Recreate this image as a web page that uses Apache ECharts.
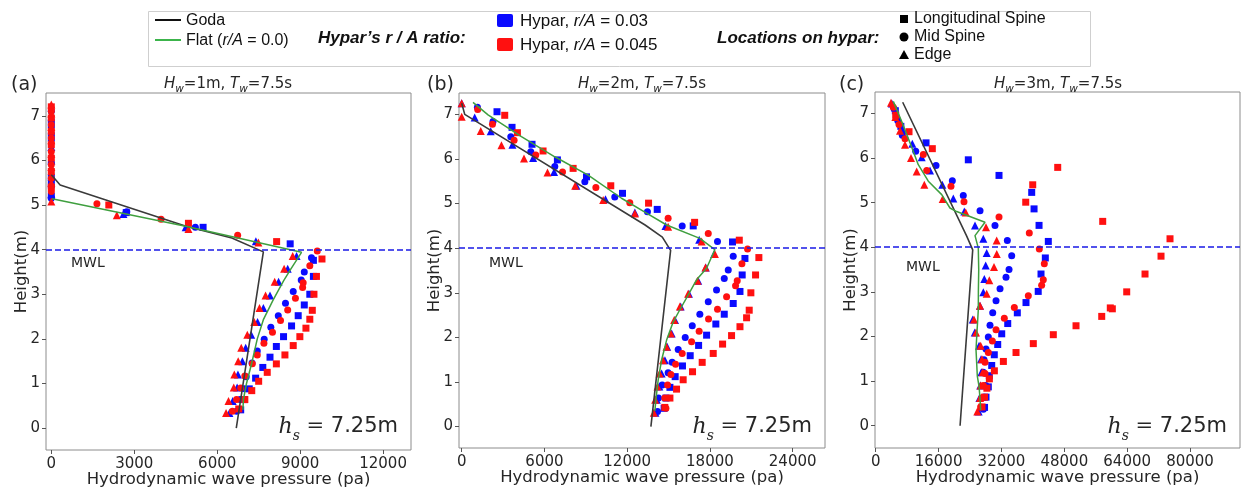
<!DOCTYPE html>
<html><head><meta charset="utf-8">
<script src="https://cdn.jsdelivr.net/npm/echarts@6/dist/echarts.min.js"></script>
<style>html,body{margin:0;padding:0;background:#fff}#c{width:1241px;height:490px}</style>
</head><body><div id="c"></div>
<script>
// ---------- tick labels ----------
const xTicksA = [0, 3000, 6000, 9000, 12000];
const xTicksB = [0, 6000, 12000, 18000, 24000];
const xTicksC = [0, 16000, 32000, 48000, 64000, 80000];
const yTicks = [0, 1, 2, 3, 4, 5, 6, 7];
const mwl = 4;
const panelTitles = [['1', '7.5'], ['2', '7.5'], ['3', '7.5']];
const panelTags = ['(a)', '(b)', '(c)'];
const hsValue = '7.25';

// ---------- Panel (a): Hw = 1 m  [pressure (pa), height (m)] ----------
const aGoda = [[6690,0],[7670,3.95],[6530,4.26],[4900,4.52],[320,5.45],[0,5.68]];
const aFlat = [[6930,0.41],[6950,0.65],[7060,1.0],[7250,1.46],[7450,2.0],[7670,2.43],[8030,2.88],[8400,3.3],[8650,3.55],[9050,3.94],[4900,4.52],[25,5.14]];
const aBlueSq = [[6850,0.41],[6980,0.64],[7160,0.88],[7390,1.12],[7650,1.36],[7910,1.59],[8140,1.83],[8400,2.05],[8690,2.29],[8930,2.52],[9150,2.76],[9350,3.0],[9480,3.4],[9480,3.76],[8640,4.13],[5490,4.5],[2710,4.83],[0,5.2],[0,5.45],[0,5.62],[0,6.5],[0,6.8]];
const aRedSq = [[6780,0.43],[7000,0.64],[7250,0.84],[7500,1.05],[7810,1.25],[8140,1.44],[8450,1.64],[8750,1.85],[8990,2.05],[9210,2.24],[9350,2.44],[9440,2.64],[9500,3.0],[9590,3.4],[9790,3.79],[8150,4.18],[4960,4.59],[2080,5.0],[0,5.4],[0,5.75],[0,6.05],[0,6.35],[0,6.65],[0,6.95],[0,7.2]];
const aBlueCi = [[6700,0.38],[6830,0.64],[6980,0.88],[7050,1.15],[7260,1.46],[7450,1.73],[7700,1.99],[7940,2.26],[8210,2.52],[8470,2.8],[8750,3.06],[9040,3.32],[9150,3.5],[9410,3.82],[5210,4.5],[2730,4.85],[0,5.15],[0,5.55],[0,5.95],[0,6.6],[0,6.9],[0,7.1]];
const aRedCi = [[6550,0.38],[6700,0.64],[6850,0.9],[7000,1.17],[7270,1.44],[7450,1.64],[7690,1.9],[8000,2.15],[8290,2.41],[8550,2.65],[8830,2.91],[9090,3.15],[9110,3.26],[9350,3.64],[9620,3.97],[6740,4.32],[3970,4.68],[1650,5.03],[0,5.3],[0,5.6],[0,5.9],[0,6.2],[0,6.5],[0,6.8],[0,7.1]];
const aBlueTr = [[6440,0.34],[6560,0.61],[6720,0.91],[6750,1.2],[6910,1.5],[7030,1.8],[7230,2.09],[7460,2.38],[7670,2.69],[7910,2.97],[8220,3.28],[8550,3.57],[8870,3.86],[7400,4.19],[4860,4.5],[2610,4.8],[0,5.25],[0,6.0],[0,6.3]];
const aRedTr = [[6320,0.34],[6410,0.61],[6600,0.91],[6620,1.2],[6760,1.5],[6870,1.8],[7090,2.09],[7340,2.38],[7530,2.69],[7750,2.97],[8080,3.28],[8420,3.57],[8730,3.86],[7490,4.16],[4960,4.46],[2370,4.77],[0,5.08],[0,5.5],[0,5.85],[0,6.15],[0,6.45],[0,6.75],[0,7.05],[0,7.25]];

// ---------- Panel (b): Hw = 2 m ----------
const bGoda = [[13720,0],[15150,3.95],[14550,4.25],[13300,4.52],[220,7.0],[0,7.25]];
const bFlat = [[14010,0.35],[14080,0.6],[14250,1.05],[14500,1.5],[14860,1.94],[15340,2.35],[15820,2.62],[16420,2.95],[17030,3.29],[17760,3.55],[18360,3.97],[17270,4.22],[14860,4.52],[13280,4.81],[11590,5.12],[9170,5.64],[6750,6.05],[4330,6.5],[1910,6.99],[820,7.27]];
const bBlueSq = [[14680,0.41],[14810,0.64],[15100,0.88],[15480,1.12],[16010,1.36],[16570,1.59],[17180,1.82],[17760,2.05],[18430,2.3],[19040,2.52],[19690,2.76],[20180,3.03],[20340,3.4],[20540,3.77],[19640,4.14],[16790,4.5],[14180,4.87],[11660,5.23],[9050,5.6],[6940,5.98],[5100,6.33],[3650,6.71],[2560,7.06]];
const bRedSq = [[14730,0.43],[15100,0.64],[15580,0.84],[16060,1.05],[16740,1.23],[17440,1.44],[18240,1.64],[18920,1.85],[19570,2.04],[20180,2.24],[20660,2.44],[20850,2.61],[20970,3.0],[21310,3.4],[21550,3.79],[20130,4.18],[16890,4.58],[13550,5.01],[10810,5.4],[8080,5.79],[5900,6.18],[4040,6.59],[3120,6.98]];
const bBlueCi = [[14200,0.34],[14270,0.64],[14540,0.93],[14970,1.21],[15260,1.44],[15700,1.73],[16210,2.0],[16720,2.26],[17270,2.52],[17880,2.8],[18480,3.06],[19040,3.32],[19330,3.51],[19690,3.82],[18550,4.15],[15990,4.5],[13470,4.82],[11100,5.15],[8930,5.49],[6750,5.83],[5010,6.16],[3560,6.5],[2270,6.84],[1140,7.16]];
const bRedCi = [[14810,0.41],[14730,0.64],[14930,0.93],[15170,1.17],[15510,1.4],[15990,1.64],[16670,1.9],[17220,2.14],[17900,2.41],[18550,2.63],[19210,2.91],[19860,3.16],[19980,3.27],[20320,3.65],[20730,3.98],[17880,4.33],[14970,4.67],[12190,5.02],[9730,5.36],[7310,5.71],[5370,6.09],[3800,6.42],[2230,6.78],[1160,7.11]];
const bBlueTr = [[14050,0.31],[14150,0.6],[14330,0.9],[14500,1.19],[14740,1.49],[14900,1.79],[15230,2.09],[15470,2.39],[15880,2.69],[16480,2.98],[17150,3.27],[17700,3.57],[18310,3.87],[17220,4.19],[14780,4.5],[12560,4.8],[10430,5.1],[8320,5.4],[6700,5.71],[5180,6.02],[3680,6.32],[2100,6.62],[940,6.93],[0,7.25]];
const bRedTr = [[13930,0.31],[14030,0.6],[14200,0.9],[14350,1.19],[14600,1.49],[14850,1.79],[15170,2.09],[15410,2.39],[15820,2.69],[16420,2.98],[17100,3.27],[17680,3.57],[18360,3.87],[17400,4.15],[14970,4.48],[12560,4.78],[10260,5.08],[8230,5.4],[6220,5.7],[4520,6.01],[2880,6.31],[1380,6.63],[0,6.95],[0,7.25]];

// ---------- Panel (c): Hw = 3 m ----------
const cGoda = [[21470,0],[24690,3.94],[23160,4.25],[6870,7.25]];
const cFlat = [[26720,0.35],[26550,0.6],[26300,0.88],[25860,1.11],[25700,1.4],[25530,1.7],[25710,2.0],[26110,2.6],[26130,3.0],[26220,3.5],[26110,3.98],[25270,4.26],[27820,4.56],[20600,4.8],[18900,4.88],[16800,5.18],[13390,5.48],[10840,5.85],[8730,6.34],[6620,6.82],[4480,7.27]];
const cBlueSq = [[27700,0.41],[28070,0.64],[28660,0.87],[28910,1.12],[29520,1.35],[30180,1.59],[31050,1.82],[32070,2.06],[33600,2.29],[36040,2.53],[38250,2.76],[41360,3.01],[42070,3.4],[43170,3.76],[43930,4.13],[41570,4.49],[40300,4.86],[39700,5.23],[31380,5.61],[23570,5.96],[12810,6.34],[6400,6.71],[5000,7.06]];
const cRedSq = [[27050,0.42],[27700,0.64],[28300,0.84],[28930,1.05],[30200,1.23],[32490,1.44],[35710,1.64],[40110,1.84],[45200,2.04],[50980,2.24],[57520,2.45],[60220,2.62],[59700,2.64],[63880,3.0],[68540,3.4],[72610,3.8],[74900,4.19],[57770,4.58],[38180,5.01],[39960,5.4],[46320,5.79],[14410,6.21],[8480,6.59],[5090,6.96]];
const cBlueCi = [[27390,0.37],[27700,0.64],[28000,0.9],[27390,1.2],[27560,1.48],[28070,1.72],[28660,1.99],[29090,2.25],[29780,2.53],[30620,2.8],[31640,3.07],[33160,3.33],[33930,3.5],[34610,3.81],[33500,4.15],[30360,4.49],[26550,4.82],[22290,5.16],[19500,5.49],[15350,5.83],[10180,6.15],[6770,6.51],[5600,6.84],[4700,7.1]];
const cRedCi = [[26700,0.42],[27000,0.62],[27390,0.9],[27820,1.17],[27820,1.42],[28660,1.64],[29680,1.9],[30620,2.15],[32730,2.41],[35280,2.65],[38840,2.91],[42230,3.15],[42650,3.27],[42910,3.63],[41640,3.96],[39090,4.32],[31380,4.68],[22470,5.02],[19160,5.37],[12980,5.72],[12120,6.08],[7460,6.43],[5930,6.75],[4480,7.14]];
const cBlueTr = [[26200,0.32],[26400,0.62],[26600,0.9],[26900,1.2],[26800,1.49],[26300,1.79],[25200,2.09],[24700,2.38],[26550,2.69],[27390,2.99],[27640,3.29],[27990,3.59],[28250,3.87],[27390,4.19],[25270,4.49],[22550,4.8],[19750,5.09],[16950,5.4],[13820,5.72],[11710,6.02],[9320,6.32],[6900,6.62],[5600,6.92],[4100,7.22]];
const cRedTr = [[25860,0.32],[26550,0.62],[26720,0.9],[27230,1.2],[27050,1.49],[26720,1.79],[25530,2.09],[25020,2.38],[26550,2.69],[28250,2.96],[28910,3.26],[30110,3.56],[30800,3.85],[30790,4.15],[28070,4.45],[22910,4.78],[17050,5.08],[12370,5.4],[10430,5.7],[8990,6.0],[7460,6.3],[6190,6.61],[5000,6.92],[3890,7.24]];

// ---------- layout / styles ----------
const BLUE = '#0a0aff', RED = '#ff1010', GREEN = '#3f9f3f', GODA = '#3a3a3a', TXT = '#262626';
const FONT = 'DejaVu Sans';
const panels = [
  {grid:{left:46,top:93,width:365,height:357}, xMin:-192, xMax:13010, yMin:-0.49, yMax:7.51, xt:xTicksA,
   goda:aGoda, flat:aFlat, sets:[aBlueSq,aBlueCi,aBlueTr,aRedSq,aRedCi,aRedTr], cx:228, mwlX:71, mwlY:263, hsX:398, tagX:11},
  {grid:{left:459,top:93,width:366,height:355}, xMin:-196, xMax:26346, yMin:-0.48, yMax:7.48, xt:xTicksB,
   goda:bGoda, flat:bFlat, sets:[bBlueSq,bBlueCi,bBlueTr,bRedSq,bRedCi,bRedTr], cx:642, mwlX:489, mwlY:263, hsX:812, tagX:427},
  {grid:{left:875,top:92,width:365,height:356}, xMin:-178, xMax:92710, yMin:-0.5, yMax:7.48, xt:xTicksC,
   goda:cGoda, flat:cFlat, sets:[cBlueSq,cBlueCi,cBlueTr,cRedSq,cRedCi,cRedTr], cx:1058, mwlX:906, mwlY:267, hsX:1227, tagX:839}
];
const symbols = ['rect','circle','triangle','rect','circle','triangle'];
const sizes = [7,7,8,7,7,8];
const colors = [BLUE,BLUE,BLUE,RED,RED,RED];
const plain = v => String(v);

const grids = [], xAxes = [], yAxes = [], series = [], graphics = [];
panels.forEach((p, i) => {
  grids.push(Object.assign({show:true, borderColor:'#8c8c8c', borderWidth:1, backgroundColor:'#fff',
    containLabel:false, outerBoundsMode:'none'}, p.grid));
  xAxes.push({gridIndex:i, type:'value', min:p.xMin, max:p.xMax,
    axisLine:{show:false, onZero:false}, splitLine:{show:false},
    axisTick:{show:true, customValues:p.xt, length:4, lineStyle:{color:'#555'}},
    axisLabel:{customValues:p.xt, formatter:plain, fontSize:15, color:TXT, fontFamily:FONT, margin:7},
    name:'Hydrodynamic wave pressure (pa)', nameLocation:'middle', nameGap:21, nameMoveOverlap:false,
    nameTextStyle:{fontSize:16.5, color:TXT, fontFamily:FONT}});
  yAxes.push({gridIndex:i, type:'value', min:p.yMin, max:p.yMax,
    axisLine:{show:false, onZero:false}, splitLine:{show:false},
    axisTick:{show:true, customValues:yTicks, length:4, lineStyle:{color:'#555'}},
    axisLabel:{customValues:yTicks, formatter:plain, fontSize:15, color:TXT, fontFamily:FONT, margin:6},
    name:'Height(m)', nameLocation:'middle', nameGap:16, nameRotate:90, nameMoveOverlap:false,
    nameTextStyle:{fontSize:16.5, color:TXT, fontFamily:FONT}});
  p.sets.forEach((d, k) => {
    series.push({type:'scatter', xAxisIndex:i, yAxisIndex:i, data:d, symbol:symbols[k], symbolSize:sizes[k],
      itemStyle:{color:colors[k], opacity:1}, z:2, silent:true});
  });
  series.push({type:'line', xAxisIndex:i, yAxisIndex:i, data:p.goda, symbol:'none', z:4, silent:true,
    lineStyle:{color:GODA, width:1.6},
    markLine:{silent:true, symbol:['none','none'], label:{show:false}, z:5,
      lineStyle:{color:'#1a1ae6', type:[6,3], width:1.5}, data:[{yAxis:mwl}]}});
  series.push({type:'line', xAxisIndex:i, yAxisIndex:i, data:p.flat, symbol:'none', z:4, silent:true,
    lineStyle:{color:GREEN, width:1.5}});
  // titles & annotations
  graphics.push({type:'text', x:p.cx, y:84, style:{
    text:'{i|H}{s|w}{n|=' + panelTitles[i][0] + 'm, }{i|T}{s|w}{n|=' + panelTitles[i][1] + 's}',
    align:'center', verticalAlign:'middle', fill:TXT,
    rich:{i:{fontStyle:'italic', fontSize:15, fontFamily:FONT, fill:TXT, lineHeight:22, verticalAlign:'middle'},
          n:{fontSize:15, fontFamily:FONT, fill:TXT, lineHeight:22, verticalAlign:'middle'},
          s:{fontStyle:'italic', fontSize:10.5, fontFamily:FONT, fill:TXT, lineHeight:22, verticalAlign:'bottom'}}}});
  graphics.push({type:'text', x:p.tagX, y:85, style:{text:panelTags[i], fill:TXT,
    font:'19px "DejaVu Sans"', verticalAlign:'middle'}});
  graphics.push({type:'text', x:p.mwlX, y:p.mwlY, style:{text:'MWL', fill:TXT,
    font:'14px "DejaVu Sans"', verticalAlign:'middle'}});
  graphics.push({type:'text', x:p.hsX, y:427, style:{
    text:'{h|h}{s|s}{e| = }{n|' + hsValue + 'm}', align:'right', verticalAlign:'middle', fill:TXT,
    rich:{h:{fontFamily:'DejaVu Serif', fontStyle:'italic', fontSize:22, fill:TXT, lineHeight:32, verticalAlign:'middle'},
          s:{fontFamily:'DejaVu Serif', fontStyle:'italic', fontSize:14, fill:TXT, lineHeight:32, verticalAlign:'bottom'},
          e:{fontFamily:'DejaVu Serif', fontSize:21, fill:TXT, lineHeight:32, verticalAlign:'middle'},
          n:{fontFamily:FONT, fontSize:21, fill:TXT, lineHeight:32, verticalAlign:'middle'}}}});
});

// ---------- legend box ----------
const LF = '"Liberation Sans", Arial, sans-serif';
const legendTexts = {goda:'Goda', hyparHead:'Hypar\u2019s r / A ratio:', locHead:'Locations on hypar:',
  loc:['Longitudinal Spine','Mid Spine','Edge']};
graphics.push({type:'rect', shape:{x:148.5, y:11.5, width:942, height:55}, style:{fill:'#fff', stroke:'#cfcfcf', lineWidth:1}});
graphics.push({type:'line', shape:{x1:155, y1:20, x2:181, y2:20}, style:{stroke:'#111', lineWidth:2}});
graphics.push({type:'text', x:186, y:21, style:{text:legendTexts.goda, font:'16px ' + LF, fill:'#111', verticalAlign:'middle'}});
graphics.push({type:'line', shape:{x1:155, y1:40, x2:181, y2:40}, style:{stroke:'#3cb44b', lineWidth:2}});
graphics.push({type:'text', x:186, y:41, style:{text:'Flat ({i|r/A} = 0.0)', font:'16px ' + LF, fill:'#111', verticalAlign:'middle',
  rich:{i:{fontStyle:'italic', fontSize:16, fontFamily:'Liberation Sans', fill:'#111'}}}});
graphics.push({type:'text', x:318, y:38, style:{text:legendTexts.hyparHead, font:'italic bold 17px ' + LF, fill:'#111', verticalAlign:'middle'}});
graphics.push({type:'rect', shape:{x:497, y:14, width:16, height:13, r:2}, style:{fill:BLUE}});
graphics.push({type:'rect', shape:{x:497, y:38, width:16, height:13, r:2}, style:{fill:RED}});
graphics.push({type:'text', x:520, y:21, style:{text:'Hypar, {i|r/A} = 0.03', font:'17px ' + LF, fill:'#111', verticalAlign:'middle',
  rich:{i:{fontStyle:'italic', fontSize:17, fontFamily:'Liberation Sans', fill:'#111'}}}});
graphics.push({type:'text', x:520, y:45, style:{text:'Hypar, {i|r/A} = 0.045', font:'17px ' + LF, fill:'#111', verticalAlign:'middle',
  rich:{i:{fontStyle:'italic', fontSize:17, fontFamily:'Liberation Sans', fill:'#111'}}}});
graphics.push({type:'text', x:717, y:38, style:{text:legendTexts.locHead, font:'italic bold 17px ' + LF, fill:'#111', verticalAlign:'middle'}});
graphics.push({type:'rect', shape:{x:900, y:15, width:8, height:8}, style:{fill:'#000'}});
graphics.push({type:'circle', shape:{cx:904, cy:37, r:4.5}, style:{fill:'#000'}});
graphics.push({type:'polygon', shape:{points:[[904,50],[909,59],[899,59]]}, style:{fill:'#000'}});
legendTexts.loc.forEach((t, k) => {
  graphics.push({type:'text', x:914, y:19 + k * 18, style:{text:t, font:'16px ' + LF, fill:'#111', verticalAlign:'middle'}});
});

const chart = echarts.init(document.getElementById('c'), null, {renderer:'canvas'});
chart.setOption({
  animation:false, backgroundColor:'#fff',
  grid:grids, xAxis:xAxes, yAxis:yAxes, series:series, graphic:graphics
});
</script></body></html>
